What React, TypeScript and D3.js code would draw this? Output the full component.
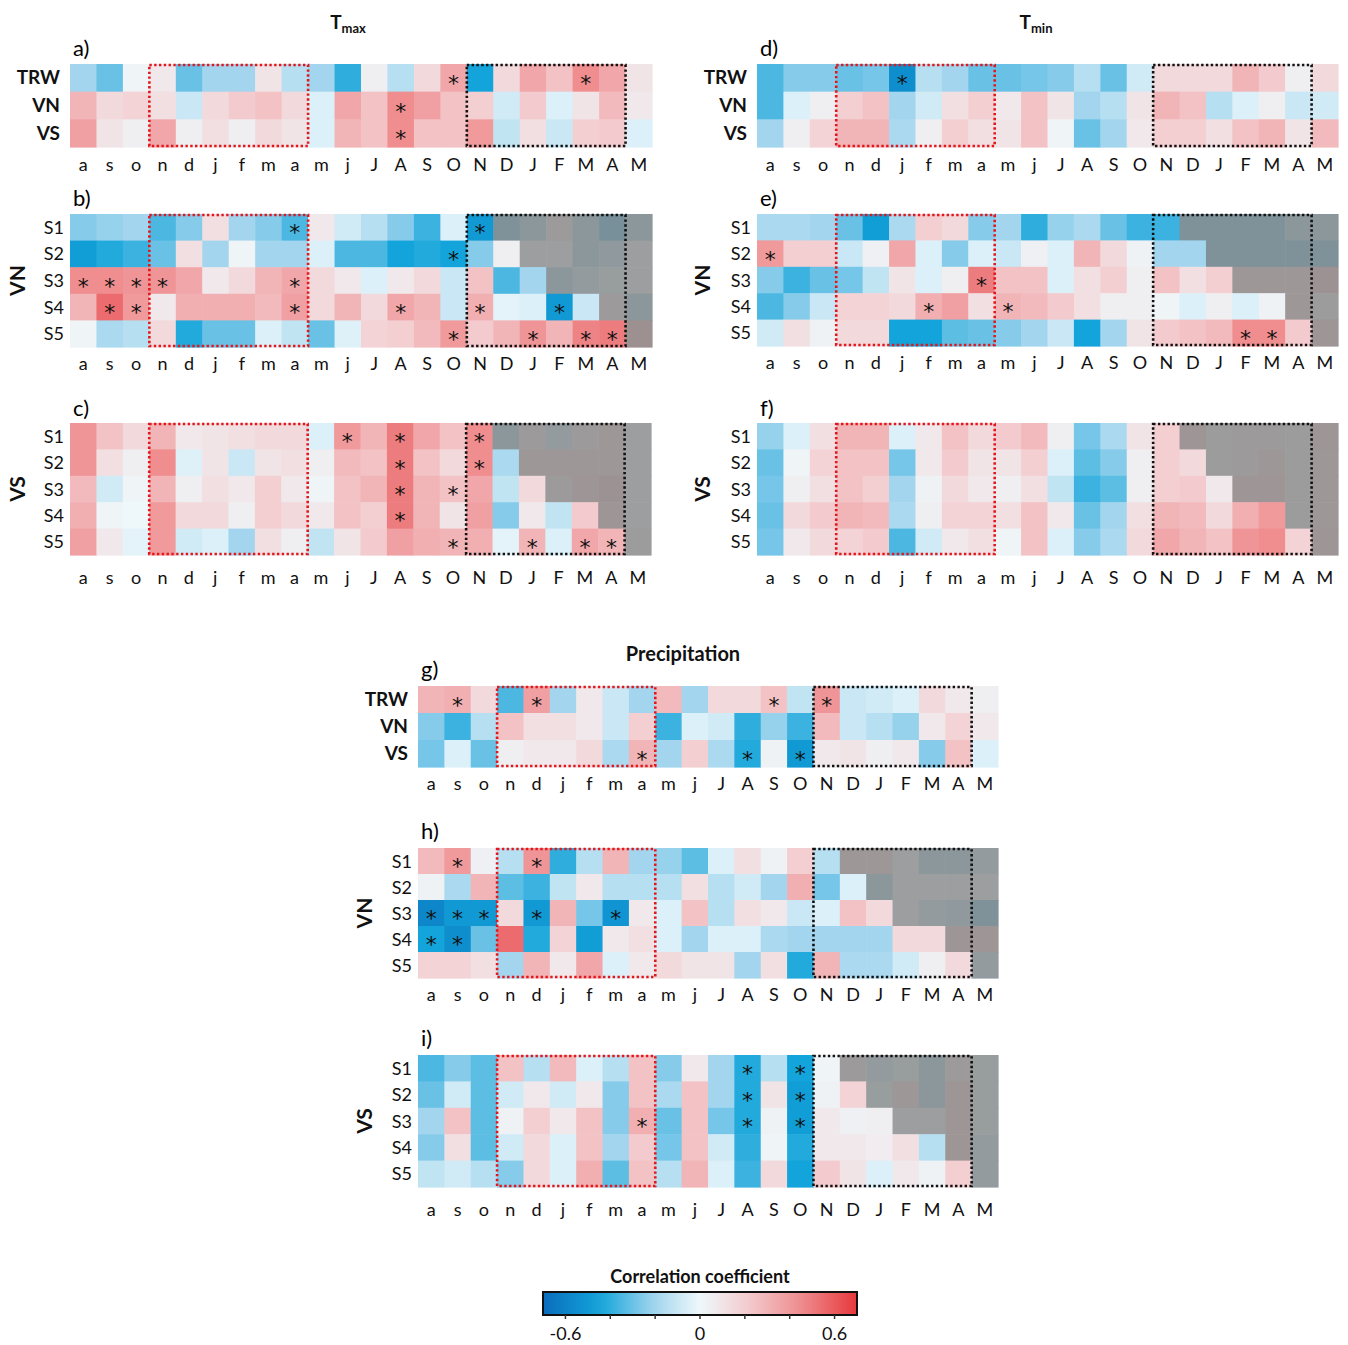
import * as d3 from "d3";

const MONTHS = ["a", "s", "o", "n", "d", "j", "f", "m", "a", "m", "j", "J", "A", "S", "O", "N", "D", "J", "F", "M", "A", "M"];
const TOP_ROWS = ["TRW", "VN", "VS"];
const SITE_ROWS = ["S1", "S2", "S3", "S4", "S5"];
// first column (index) that is greyed out for each site row
const GREY_FROM = [16, 17, 18, 20, 21];

const tmaxA = [
  [-0.2, -0.3, 0.02, 0.08, -0.3, -0.2, -0.2, 0.1, -0.15, -0.2, -0.4, 0.05, -0.15, 0.15, 0.35, -0.45, 0.15, 0.35, 0.25, 0.45, 0.35, 0.1],
  [0.3, 0.15, 0.18, 0.12, -0.1, 0.15, 0.22, 0.25, 0.15, -0.05, 0.35, 0.25, 0.45, 0.38, 0.25, 0.2, -0.08, 0.22, -0.05, 0.1, 0.28, 0.08],
  [0.38, 0.1, 0.05, 0.35, 0.05, 0.12, 0.05, 0.15, 0.1, -0.05, 0.3, 0.25, 0.45, 0.25, 0.25, 0.4, -0.12, 0.12, -0.1, 0.2, 0.22, -0.05],
];
const tmaxB = [
  [-0.25, -0.22, -0.2, -0.35, -0.25, 0.12, -0.2, -0.25, -0.35, 0.08, -0.08, -0.15, -0.25, -0.38, -0.05, -0.5, -0.3, -0.2, 0.1, -0.2, -0.35, -0.2],
  [-0.48, -0.42, -0.38, -0.3, 0.12, -0.2, 0.02, -0.2, -0.2, -0.05, -0.35, -0.35, -0.45, -0.42, -0.45, -0.25, 0.05, 0, 0, -0.2, -0.15, 0],
  [0.45, 0.45, 0.42, 0.42, 0.35, 0.08, 0.15, 0.3, 0.35, 0.15, 0.08, -0.05, 0.08, 0.15, -0.1, 0.25, -0.35, -0.2, -0.2, -0.1, -0.05, 0],
  [0.3, 0.55, 0.4, 0.08, 0.32, 0.32, 0.32, 0.28, 0.38, 0.15, 0.3, 0.15, 0.35, 0.3, -0.1, 0.32, -0.03, -0.05, -0.5, -0.1, 0.1, -0.2],
  [0.02, -0.18, -0.15, 0.15, -0.42, -0.3, -0.3, -0.05, -0.12, -0.3, -0.04, 0.18, 0.2, 0.28, 0.4, 0.22, 0.3, 0.42, 0.3, 0.48, 0.5, 0.3],
];
const tmaxC = [
  [0.42, 0.25, 0.15, 0.3, 0.08, 0.1, 0.12, 0.15, 0.15, -0.05, 0.4, 0.3, 0.5, 0.35, 0.25, 0.45, -0.2, 0.1, -0.1, 0.1, 0.15, 0],
  [0.42, 0.12, 0.05, 0.45, -0.04, 0.1, -0.1, 0.1, 0.12, 0.05, 0.28, 0.25, 0.5, 0.25, 0.15, 0.45, -0.18, 0.15, 0.15, 0.15, 0.15, 0],
  [0.28, -0.08, 0.02, 0.3, 0.05, 0.12, 0.08, 0.2, 0.08, 0.02, 0.25, 0.3, 0.5, 0.3, 0.25, 0.35, -0.12, 0.15, 0.1, 0.2, 0.25, 0],
  [0.32, 0.02, 0, 0.4, 0.15, 0.15, 0.05, 0.2, 0.15, 0.08, 0.25, 0.2, 0.5, 0.3, 0.1, 0.38, -0.25, 0.08, -0.12, 0.22, 0.2, 0],
  [0.38, 0.08, -0.03, 0.4, -0.08, -0.05, -0.2, 0.12, 0.05, -0.12, 0.1, 0.22, 0.38, 0.32, 0.3, 0.32, -0.03, 0.3, -0.05, 0.35, 0.3, 0.05],
];
const tminD = [
  [-0.35, -0.25, -0.25, -0.3, -0.28, -0.55, -0.15, -0.2, -0.3, -0.3, -0.28, -0.25, -0.15, -0.3, -0.08, 0.15, 0.15, 0.15, 0.3, 0.22, 0.05, 0.15],
  [-0.35, -0.05, 0.05, 0.2, 0.25, -0.2, -0.08, 0.12, 0.2, 0.08, 0.25, 0.1, -0.2, -0.15, 0.1, 0.3, 0.25, -0.15, -0.05, 0.05, -0.1, -0.08],
  [-0.2, 0.05, 0.18, 0.3, 0.3, -0.18, 0.05, 0.2, 0.12, 0.1, 0.25, 0.02, -0.3, -0.2, 0.08, 0.2, 0.2, 0.12, 0.25, 0.3, 0.1, 0.28],
];
const tminE = [
  [-0.18, -0.18, -0.2, -0.3, -0.48, -0.18, 0.2, 0.15, -0.25, -0.2, -0.4, -0.22, -0.18, -0.3, -0.38, -0.38, -0.3, -0.3, -0.3, -0.3, -0.2, -0.2],
  [0.4, 0.2, 0.2, -0.1, 0.04, 0.35, -0.05, -0.25, -0.05, -0.1, 0.04, -0.05, 0.3, 0.15, 0.03, -0.2, -0.2, -0.3, -0.3, -0.3, -0.3, -0.3],
  [-0.25, -0.38, -0.3, -0.28, -0.12, 0.1, -0.05, 0.05, 0.5, 0.25, 0.25, -0.05, 0.12, 0.2, 0.05, 0.25, 0.12, 0.2, 0.15, 0.15, 0.15, 0.25],
  [-0.35, -0.25, -0.1, 0.18, 0.18, 0.15, 0.32, 0.38, 0.12, 0.3, 0.28, 0.22, 0.12, 0.05, 0.05, 0.02, -0.05, 0.05, -0.05, 0.03, 0.15, 0.05],
  [-0.08, 0.12, 0.03, 0.15, 0.15, -0.45, -0.45, -0.32, -0.3, -0.25, -0.2, -0.1, -0.45, -0.2, 0.1, 0.22, 0.25, 0.28, 0.45, 0.45, 0.22, 0.2],
];
const tminF = [
  [-0.22, -0.05, 0.12, 0.3, 0.3, -0.05, 0.08, 0.25, 0.15, 0.22, 0.28, 0.05, -0.28, -0.18, 0.1, 0.2, 0.2, 0.05, 0.1, 0.1, 0.05, 0.2],
  [-0.3, 0.02, 0.18, 0.25, 0.25, -0.28, 0.08, 0.22, 0.1, 0.1, 0.2, -0.05, -0.32, -0.25, 0.05, 0.2, 0.15, 0.05, 0.1, 0.15, 0.05, 0.15],
  [-0.28, 0.05, 0.12, 0.25, 0.2, -0.2, 0.03, 0.15, 0.08, 0.05, 0.12, -0.12, -0.38, -0.32, 0.05, 0.2, 0.22, 0.08, 0.2, 0.2, 0.05, 0.15],
  [-0.3, 0.15, 0.22, 0.3, 0.28, -0.18, 0.05, 0.18, 0.18, 0.12, 0.25, 0.08, -0.3, -0.2, 0.12, 0.3, 0.28, 0.15, 0.32, 0.4, 0.05, 0.15],
  [-0.28, 0.08, 0.15, 0.18, 0.22, -0.35, -0.08, 0.08, 0.12, 0.02, 0.25, -0.05, -0.25, -0.18, 0.15, 0.35, 0.3, 0.25, 0.42, 0.45, 0.18, 0.2],
];
const precG = [
  [0.3, 0.32, 0.15, -0.35, 0.38, -0.2, 0.08, -0.1, -0.2, 0.28, -0.2, 0.15, 0.15, 0.25, -0.12, 0.42, -0.1, -0.08, -0.05, 0.15, 0.08, 0.05],
  [-0.25, -0.38, -0.15, 0.25, 0.12, 0.12, 0.08, -0.1, 0.2, -0.38, -0.05, -0.08, -0.4, -0.22, -0.38, 0.28, -0.1, -0.15, -0.22, 0.08, 0.18, 0.08],
  [-0.28, -0.05, -0.3, 0.05, 0.08, 0.08, 0.15, -0.18, 0.3, -0.2, 0.2, -0.18, -0.42, 0.03, -0.5, 0.08, 0.1, 0.05, 0.08, -0.25, 0.25, -0.05],
];
const precH = [
  [0.28, 0.4, 0.04, -0.15, 0.42, -0.4, -0.15, 0.3, -0.2, -0.22, -0.32, -0.05, 0.12, 0.03, 0.2, -0.15, 0.15, 0.15, 0, -0.2, -0.2, -0.1],
  [0.03, -0.18, 0.3, -0.32, -0.38, -0.12, 0.08, -0.15, -0.15, -0.15, 0.12, -0.15, -0.08, -0.2, 0.32, -0.28, -0.05, -0.2, 0, 0, 0, 0],
  [-0.58, -0.5, -0.5, 0.15, -0.5, 0.3, -0.28, -0.52, 0.08, -0.05, 0.25, -0.15, 0.12, 0.08, -0.1, -0.05, 0.25, 0.15, 0, -0.1, -0.15, -0.3],
  [-0.45, -0.55, -0.3, 0.55, -0.42, 0.18, -0.48, 0.08, 0.12, -0.05, -0.2, -0.05, -0.05, -0.18, -0.2, -0.2, -0.2, -0.2, 0.15, 0.15, 0.2, 0.2],
  [0.18, 0.18, 0.12, -0.2, 0.3, 0.08, 0.35, -0.05, 0.08, 0.15, 0.1, 0.1, -0.2, 0.12, -0.42, 0.3, -0.18, -0.18, -0.08, 0.05, 0.15, -0.1],
];
const precI = [
  [-0.35, -0.25, -0.32, 0.25, -0.15, 0.28, -0.05, -0.15, 0.25, -0.25, 0.08, -0.2, -0.42, -0.15, -0.45, 0.02, 0.1, -0.1, -0.05, -0.2, 0.1, -0.05],
  [-0.3, -0.08, -0.32, -0.08, 0.08, -0.08, 0.08, -0.25, 0.25, -0.18, 0.25, -0.2, -0.42, 0.1, -0.48, 0.03, 0.18, -0.05, 0.15, -0.2, 0.2, -0.05],
  [-0.2, 0.25, -0.32, 0.03, 0.2, 0.08, 0.25, -0.25, 0.32, -0.3, 0.25, -0.28, -0.42, 0.03, -0.48, 0.08, 0.04, 0.05, 0, 0, 0.2, -0.05],
  [-0.25, 0.12, -0.32, -0.08, 0.15, -0.05, 0.25, -0.2, 0.22, -0.28, 0.25, -0.08, -0.4, 0.02, -0.42, 0.08, 0.08, 0.06, 0.12, -0.15, 0.2, -0.1],
  [-0.12, -0.08, -0.15, -0.25, 0.15, -0.05, 0.32, -0.32, 0.25, -0.15, 0.3, -0.05, -0.38, 0.15, -0.45, 0.22, 0.1, -0.05, 0.08, 0.03, 0.2, -0.1],
];

// significant cells: [row, column]
const starsA = [[0, 14], [0, 19], [1, 12], [2, 12]];
const starsB = [[0, 8], [0, 15], [1, 14], [2, 0], [2, 1], [2, 2], [2, 3], [2, 8], [3, 1], [3, 2], [3, 8], [3, 12], [3, 15], [3, 18], [4, 14], [4, 17], [4, 19], [4, 20]];
const starsC = [[0, 10], [0, 12], [0, 15], [1, 12], [1, 15], [2, 12], [2, 14], [3, 12], [4, 14], [4, 17], [4, 19], [4, 20]];
const starsD = [[0, 5]];
const starsE = [[1, 0], [2, 8], [3, 6], [3, 9], [4, 18], [4, 19]];
const starsF: number[][] = [];
const starsG = [[0, 1], [0, 4], [0, 13], [0, 15], [2, 8], [2, 12], [2, 14]];
const starsH = [[0, 1], [0, 4], [2, 0], [2, 1], [2, 2], [2, 4], [2, 7], [3, 0], [3, 1]];
const starsI = [[0, 12], [0, 14], [1, 12], [1, 14], [2, 8], [2, 12], [2, 14]];

const CBAR_TICKS = [-0.6, -0.4, -0.2, 0, 0.2, 0.4, 0.6];
const CBAR_LABELS = ["-0.6", "0", "0.6"];

const FONT = "Lato, 'Noto Sans', sans-serif";

const color = d3
  .scaleLinear<string>()
  .domain([-0.7, -0.45, -0.2, 0, 0.2, 0.45, 0.7])
  .range(["#0b6cbc", "#12a4da", "#a3d6ee", "#eef8fb", "#f3cfd2", "#ef8d8f", "#e6383c"])
  .interpolate(d3.interpolateRgb)
  .clamp(true);

function cellFill(v: number, grey: boolean) {
  return grey ? d3.interpolateRgb(color(v), "#858585")(0.78) : color(v);
}

interface PanelProps {
  x0: number;
  x1: number;
  y0: number;
  y1: number;
  rows: string[];
  values: number[][];
  stars: number[][];
  letter: string;
  letterY: number;
  labelGap: number;
  masked?: boolean;
  group?: string;
  groupX?: number;
}

function Panel({ x0, x1, y0, y1, rows, values, stars, letter, letterY, labelGap, masked, group, groupX }: PanelProps) {
  const x = d3.scaleBand<number>().domain(d3.range(MONTHS.length)).range([x0, x1]);
  const y = d3.scaleBand<string>().domain(rows).range([y0, y1]);
  const bw = x.bandwidth();
  const bh = y.bandwidth();
  const bold = rows[0] === "TRW";

  return (
    <g>
      <text x={x0 + 3} y={letterY} fontSize={22} fontFamily={FONT}>
        {letter}
      </text>
      {values.map((row, r) =>
        row.map((v, c) => (
          <rect
            key={`${r}-${c}`}
            x={x(c)}
            y={y(rows[r])}
            width={bw + 0.6}
            height={bh + 0.6}
            fill={cellFill(v, !!masked && c >= GREY_FROM[r])}
          />
        ))
      )}
      {stars.map(([r, c]) => (
        <text
          key={`s${r}-${c}`}
          x={(x(c) as number) + bw / 2}
          y={(y(rows[r]) as number) + bh / 2 + 13}
          fontSize={22}
          fontFamily="'DejaVu Sans', sans-serif"
          textAnchor="middle"
          fill="#111"
        >
          *
        </text>
      ))}
      <rect
        x={x(3)}
        y={y0 + 1}
        width={(x(8) as number) + bw - (x(3) as number)}
        height={y1 - y0 - 2}
        fill="none"
        stroke="#e3161b"
        strokeWidth={2.6}
        strokeDasharray="2.4 2.4"
      />
      <rect
        x={x(15)}
        y={y0 + 1}
        width={(x(20) as number) + bw - (x(15) as number)}
        height={y1 - y0 - 2}
        fill="none"
        stroke="#111"
        strokeWidth={2.6}
        strokeDasharray="2.4 2.4"
      />
      {rows.map((name) => (
        <text
          key={name}
          x={x0 - (bold ? 10 : 6)}
          y={(y(name) as number) + bh / 2 + 6.5}
          fontSize={bold ? 19 : 18}
          fontWeight={bold ? "bold" : "normal"}
          fontFamily={FONT}
          textAnchor="end"
          fill="#111"
        >
          {name}
        </text>
      ))}
      {MONTHS.map((m, i) => (
        <text
          key={i}
          x={(x(i) as number) + bw / 2}
          y={y1 + labelGap}
          fontSize={18}
          fontFamily={FONT}
          textAnchor="middle"
          fill="#111"
        >
          {m}
        </text>
      ))}
      {group && (
        <text
          transform={`translate(${groupX},${(y0 + y1) / 2}) rotate(-90)`}
          fontSize={21}
          fontWeight="bold"
          fontFamily={FONT}
          textAnchor="middle"
          dy={7}
          fill="#111"
        >
          {group}
        </text>
      )}
    </g>
  );
}

function ColorBar() {
  const x0 = 543;
  const x1 = 857;
  const top = 1292;
  const h = 23;
  const xs = d3.scaleLinear().domain([-0.7, 0.7]).range([x0, x1]);
  const stops = d3.range(0, 1.0001, 0.05);
  return (
    <g>
      <defs>
        <linearGradient id="cbar" x1="0" x2="1" y1="0" y2="0">
          {stops.map((t) => (
            <stop key={t} offset={t} stopColor={color(-0.7 + 1.4 * t)} />
          ))}
        </linearGradient>
      </defs>
      <text x={(x0 + x1) / 2} y={1283} fontSize={18} fontWeight="bold" fontFamily={FONT} textAnchor="middle" fill="#111">
        Correlation coefficient
      </text>
      <rect x={x0} y={top} width={x1 - x0} height={h} fill="url(#cbar)" stroke="#111" strokeWidth={2} />
      {CBAR_TICKS.map((t) => (
        <line key={t} x1={xs(t)} x2={xs(t)} y1={top + h} y2={top + h + 4} stroke="#333" strokeWidth={1.5} />
      ))}
      {CBAR_LABELS.map((t) => (
        <text key={t} x={xs(+t)} y={1340} fontSize={18} fontFamily={FONT} textAnchor="middle" fill="#111">
          {t}
        </text>
      ))}
    </g>
  );
}

export default function App() {
  return (
    <svg
      width={1348}
      height={1345}
      style={{ position: "absolute", left: 0, top: 0, background: "#fff" }}
    >
      <text x={348} y={29} fontSize={19} fontWeight="bold" fontFamily={FONT} textAnchor="middle" fill="#111">
        T<tspan fontSize={13} dy={4}>max</tspan>
      </text>
      <text x={1036} y={29} fontSize={19} fontWeight="bold" fontFamily={FONT} textAnchor="middle" fill="#111">
        T<tspan fontSize={13} dy={4}>min</tspan>
      </text>
      <text x={683} y={661} fontSize={20} fontWeight="bold" fontFamily={FONT} textAnchor="middle" fill="#111">
        Precipitation
      </text>

      <Panel x0={70} x1={652} y0={64} y1={147} rows={TOP_ROWS} values={tmaxA} stars={starsA} letter="a)" letterY={56} labelGap={24} />
      <Panel x0={70} x1={652} y0={214} y1={347} rows={SITE_ROWS} values={tmaxB} stars={starsB} letter="b)" letterY={206} labelGap={23} masked group="VN" groupX={18} />
      <Panel x0={70} x1={651} y0={423} y1={555} rows={SITE_ROWS} values={tmaxC} stars={starsC} letter="c)" letterY={416} labelGap={29} masked group="VS" groupX={18} />

      <Panel x0={757} x1={1338} y0={64} y1={147} rows={TOP_ROWS} values={tminD} stars={starsD} letter="d)" letterY={56} labelGap={24} />
      <Panel x0={757} x1={1338} y0={214} y1={346} rows={SITE_ROWS} values={tminE} stars={starsE} letter="e)" letterY={206} labelGap={23} masked group="VN" groupX={703} />
      <Panel x0={757} x1={1338} y0={423} y1={555} rows={SITE_ROWS} values={tminF} stars={starsF} letter="f)" letterY={416} labelGap={29} masked group="VS" groupX={703} />

      <Panel x0={418} x1={998} y0={686} y1={767} rows={TOP_ROWS} values={precG} stars={starsG} letter="g)" letterY={677} labelGap={23} />
      <Panel x0={418} x1={998} y0={848} y1={978} rows={SITE_ROWS} values={precH} stars={starsH} letter="h)" letterY={839} labelGap={23} masked group="VN" groupX={365} />
      <Panel x0={418} x1={998} y0={1055} y1={1187} rows={SITE_ROWS} values={precI} stars={starsI} letter="i)" letterY={1046} labelGap={29} masked group="VS" groupX={365} />

      <ColorBar />
    </svg>
  );
}
